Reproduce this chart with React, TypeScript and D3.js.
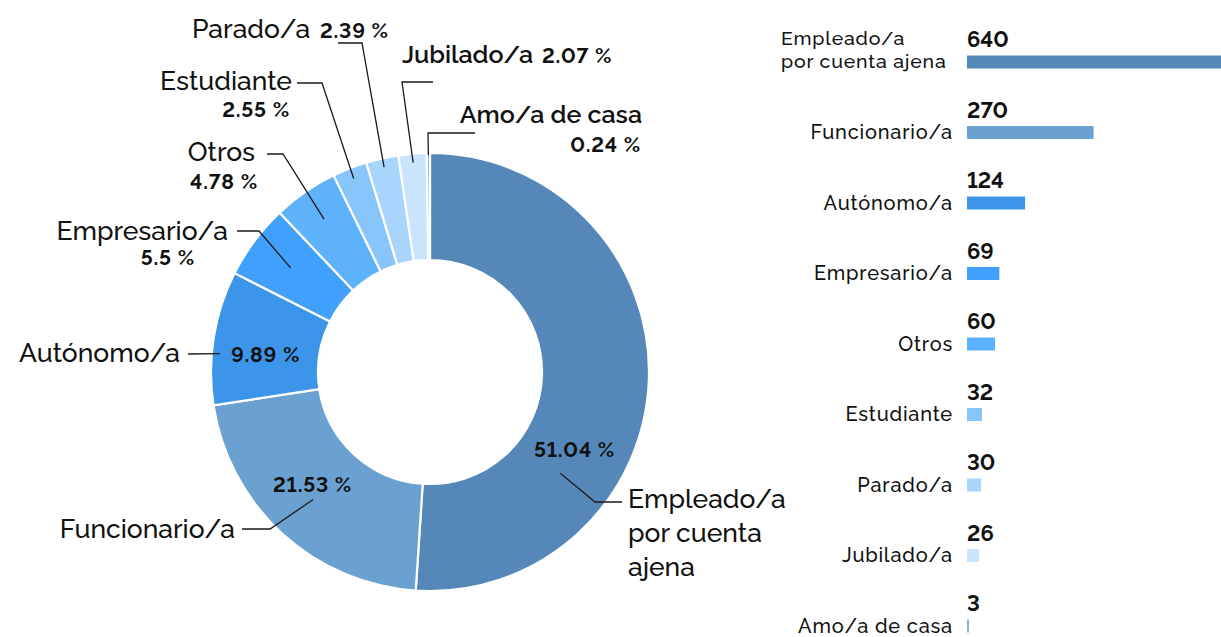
import React from "react";
import * as d3 from "d3";

const categories = [
  "Empleado/a por cuenta ajena",
  "Funcionario/a",
  "Autónomo/a",
  "Empresario/a",
  "Otros",
  "Estudiante",
  "Parado/a",
  "Jubilado/a",
  "Amo/a de casa",
];
const values = [640, 270, 124, 69, 60, 32, 30, 26, 3];
const colors = [
  "#5588b8",
  "#6ba1d0",
  "#3c95e9",
  "#40a0fb",
  "#5eb1fb",
  "#88c5fb",
  "#a9d5fc",
  "#cae4fd",
  "#8fb2d3",
];
const barLabelLines = [
  ["Empleado/a", "por cuenta ajena"],
  ["Funcionario/a"],
  ["Autónomo/a"],
  ["Empresario/a"],
  ["Otros"],
  ["Estudiante"],
  ["Parado/a"],
  ["Jubilado/a"],
  ["Amo/a de casa"],
];

// Layout of donut annotations (positions only)
type Ann = {
  lines: string[];
  lx: number;
  ly: number;
  lanchor: "start" | "end";
  lweight?: number;
  lsize?: number;
  lh?: number;
  px: number;
  py: number;
  panchor: "start" | "end";
  r: number;
  angleDeg?: number;
  elbow: [number, number];
  end: [number, number];
};
const annotations: Ann[] = [
  { lines: ["Empleado/a", "por cuenta", "ajena"], lx: 628, ly: 508, lanchor: "start", lh: 34, px: 534, py: 457, panchor: "start", r: 165, angleDeg: 127.8, elbow: [595, 502], end: [622, 502] },
  { lines: ["Funcionario/a"], lx: 235, ly: 538, lanchor: "end", px: 273, py: 492, panchor: "start", r: 173, elbow: [270, 529], end: [242, 529] },
  { lines: ["Autónomo/a"], lx: 180, ly: 362, lanchor: "end", px: 231, py: 362, panchor: "start", r: 211, angleDeg: -85, elbow: [188, 354], end: [188, 354] },
  { lines: ["Empresario/a"], lx: 228, ly: 240, lanchor: "end", px: 195, py: 265, panchor: "end", r: 174, elbow: [259, 231], end: [237, 231] },
  { lines: ["Otros"], lx: 255, ly: 161, lanchor: "end", px: 258, py: 189, panchor: "end", r: 186, elbow: [283, 154], end: [267, 154] },
  { lines: ["Estudiante"], lx: 292, ly: 90, lanchor: "end", px: 290, py: 117, panchor: "end", r: 208, elbow: [322, 83], end: [297, 83] },
  { lines: ["Parado/a"], lx: 192, ly: 38, lanchor: "start", px: 320, py: 38, panchor: "start", r: 210, elbow: [362, 43], end: [338, 43] },
  { lines: ["Jubilado/a"], lx: 402, ly: 63, lanchor: "start", lweight: 600, lsize: 25, px: 542, py: 63, panchor: "start", r: 210, elbow: [402, 82], end: [433, 82] },
  { lines: ["Amo/a de casa"], lx: 642, ly: 123, lanchor: "end", lweight: 600, lsize: 25, px: 641, py: 152, panchor: "end", r: 217, elbow: [428, 133], end: [475, 133] },
];

const FONT = "Raleway, Inter, 'Open Sans', sans-serif";
const NUMSTYLE: React.CSSProperties = { fontVariantNumeric: "lining-nums", fontFeatureSettings: "'lnum' 1" };

export default function App() {
  const W = 1221;
  const H = 637;
  const cx = 430;
  const cy = 372;
  const outerR = 219;
  const innerR = 112;

  const total = d3.sum(values);
  const pie = d3
    .pie<number>()
    .sort(null)
    .value((d) => d)(values);
  const arc = d3.arc<d3.PieArcDatum<number>>().innerRadius(innerR).outerRadius(outerR);

  const pct = (v: number) => `${+((v / total) * 100).toFixed(2)} %`;

  // bar chart scales
  const x = d3.scaleLinear().domain([0, 640]).range([0, 300]);
  const y = d3.scalePoint<string>().domain(categories).range([62, 626]);
  const barX = 967;
  const barH = 13;

  return (
    <svg width={W} height={H} style={{ display: "block", fontFamily: FONT }}>
      <style>{`body{margin:0;overflow:hidden}`}</style>
      <rect width={W} height={H} fill="#fff" />
      <g transform={`translate(${cx},${cy})`}>
        {pie.map((p, i) => (
          <path key={i} d={arc(p) || ""} fill={colors[i]} stroke="#fff" strokeWidth={2.2} />
        ))}
      </g>
      {/* leaders */}
      {pie.map((p, i) => {
        const a = annotations[i];
        const ang = a.angleDeg !== undefined ? (a.angleDeg * Math.PI) / 180 : (p.startAngle + p.endAngle) / 2;
        const sx = cx + a.r * Math.sin(ang);
        const sy = cy - a.r * Math.cos(ang);
        const pts = [[sx, sy], a.elbow, a.end];
        return (
          <path
            key={"l" + i}
            d={d3.line()(pts as [number, number][]) || ""}
            fill="none"
            stroke="#1a1a1a"
            strokeWidth={1.3}
          />
        );
      })}
      {/* donut labels */}
      {annotations.map((a, i) => (
        <g key={"t" + i} fill="#111">
          <text x={a.lx} y={a.ly} textAnchor={a.lanchor} fontSize={a.lsize || 26.5} fontWeight={a.lweight || 500}>
            {a.lines.map((ln, j) => (
              <tspan key={j} x={a.lx} dy={j === 0 ? 0 : a.lh}>
                {ln}
              </tspan>
            ))}
          </text>
          <text
            x={a.px}
            y={a.py}
            textAnchor={a.panchor}
            fontSize={21}
            fontWeight={700}
            letterSpacing={0.8}
            style={NUMSTYLE}
          >
            {pct(values[i])}
          </text>
        </g>
      ))}
      {/* bar chart */}
      {categories.map((c, i) => {
        const yc = y(c) as number;
        const lines = barLabelLines[i];
        return (
          <g key={"b" + i}>
            <rect x={barX} y={yc - barH / 2} width={Math.max(x(values[i]), 2)} height={barH} fill={colors[i]} />
            <text x={barX} y={yc - 15} fontSize={22} fontWeight={700} fill="#111" style={NUMSTYLE}>
              {values[i]}
            </text>
            {lines.length === 1 ? (
              <text x={953} y={yc + 6.5} textAnchor="end" fontSize={20} fontWeight={500} letterSpacing={0.8} fill="#111">
                {lines[0]}
              </text>
            ) : (
              <text x={781} y={yc - 17} fontSize={19.5} fontWeight={500} letterSpacing={0.8} fill="#111">
                <tspan x={781}>{lines[0]}</tspan>
                <tspan x={781} dy={22.5}>
                  {lines[1]}
                </tspan>
              </text>
            )}
          </g>
        );
      })}
    </svg>
  );
}
